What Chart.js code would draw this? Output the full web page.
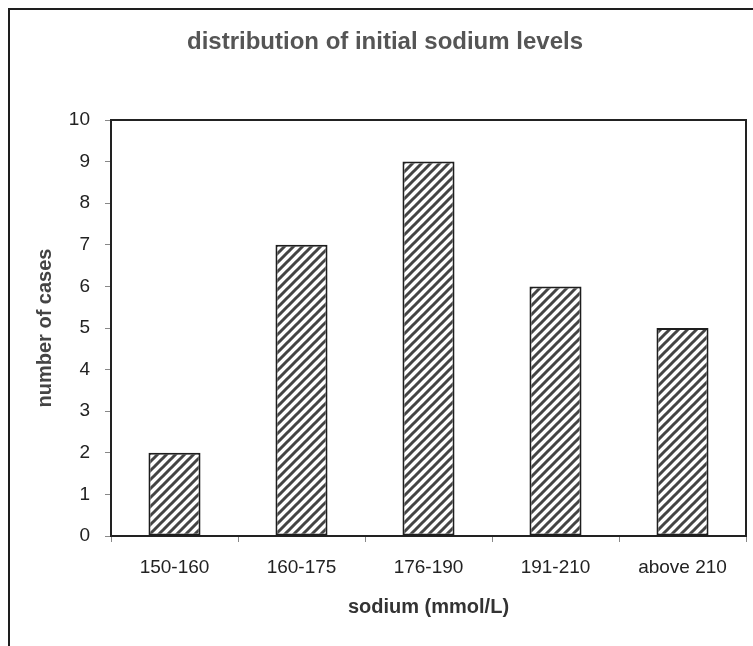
<!DOCTYPE html>
<html>
<head>
<meta charset="utf-8">
<script src="https://cdn.jsdelivr.net/npm/chart.js@4/dist/chart.umd.min.js"></script>
<style>
  html, body { margin: 0; padding: 0; background: #fff; overflow: hidden; }
  #wrap { width: 753px; height: 646px; }
</style>
</head>
<body>
<div id="wrap"><canvas id="chart" width="753" height="646"></canvas></div>
<script>
// data
const categories = ['150-160', '160-175', '176-190', '191-210', 'above 210'];
const cases = [2, 7, 9, 6, 5];
const yMin = 0;
const yMax = 10;
const yStep = 1;

const chartTitle = 'distribution of initial sodium levels';
const xTitle = 'sodium (mmol/L)';
const yTitle = 'number of cases';

(() => {
    Chart.defaults.font.family = '"Liberation Sans", Arial, sans-serif';

    // hatch fill like the old office pattern
    function makeHatch() {
        const n = 9;
        const c = document.createElement('canvas');
        c.width = n; c.height = n;
        const g = c.getContext('2d');
        g.fillStyle = '#fff';
        g.fillRect(0, 0, n, n);
        g.strokeStyle = '#444';
        g.lineWidth = 3;
        g.beginPath();
        g.moveTo(-n / 2, n / 2); g.lineTo(n / 2, -n / 2);
        g.moveTo(0, n); g.lineTo(n, 0);
        g.moveTo(n / 2, n * 1.5); g.lineTo(n * 1.5, n / 2);
        g.stroke();
        return g.createPattern(c, 'repeat');
    }

    const framePlugin = {
        id: 'frame',
        beforeDraw(chart) {
            const ctx = chart.ctx;
            ctx.save();
            ctx.fillStyle = '#fff';
            ctx.fillRect(0, 0, chart.width, chart.height);
            ctx.strokeStyle = '#1e1e1e';
            ctx.lineWidth = 2;
            ctx.beginPath();
            ctx.moveTo(9, chart.height + 20);
            ctx.lineTo(9, 9);
            ctx.lineTo(chart.width + 20, 9);
            ctx.stroke();
            ctx.restore();
        },
        beforeDatasetsDraw(chart) {
            const {ctx, chartArea: a} = chart;
            ctx.save();
            ctx.strokeStyle = '#222';
            ctx.lineWidth = 2;
            ctx.beginPath();
            ctx.moveTo(a.left, a.top);
            ctx.lineTo(a.right, a.top);
            ctx.lineTo(a.right, a.bottom);
            ctx.stroke();
            ctx.restore();
        }
    };

    const ctx = document.getElementById('chart');
    new Chart(ctx, {
        type: 'bar',
        data: {
            labels: categories,
            datasets: [{
                data: cases,
                backgroundColor: makeHatch(),
                borderColor: '#1e1e1e',
                borderWidth: 2,
                borderSkipped: false,
                categoryPercentage: 1,
                barPercentage: 0.41
            }]
        },
        options: {
            responsive: false,
            animation: false,
            devicePixelRatio: 1,
            layout: { padding: { left: 24, right: 7, top: 0, bottom: 0 } },
            plugins: {
                legend: { display: false },
                tooltip: { enabled: false },
                title: {
                    display: true,
                    text: chartTitle,
                    color: '#555',
                    font: { size: 24, weight: 'bold' },
                    padding: { top: 27.6, bottom: 63.6 }
                }
            },
            scales: {
                x: {
                    grid: { drawOnChartArea: false, tickLength: 6, color: '#888', offset: true },
                    border: { color: '#222', width: 2 },
                    ticks: { color: '#222', font: { size: 19 }, padding: 14, maxRotation: 0 },
                    title: {
                        display: true, text: xTitle, color: '#333',
                        font: { size: 20, weight: 'bold' },
                        padding: { top: 0, bottom: 27 }
                    },
                    afterFit: s => { s.height = 110; }
                },
                y: {
                    min: yMin,
                    max: yMax,
                    ticks: { stepSize: yStep, color: '#222', font: { size: 19 }, padding: 15 },
                    grid: { drawOnChartArea: false, tickLength: 6, color: '#888' },
                    border: { color: '#222', width: 2 },
                    title: {
                        display: true, text: yTitle, color: '#444',
                        font: { size: 20, weight: 'bold' },
                        padding: { top: 9, bottom: 0 }
                    },
                    afterFit: s => { s.width = 87; }
                }
            }
        },
        plugins: [framePlugin]
    });
})();
</script>
</body>
</html>
